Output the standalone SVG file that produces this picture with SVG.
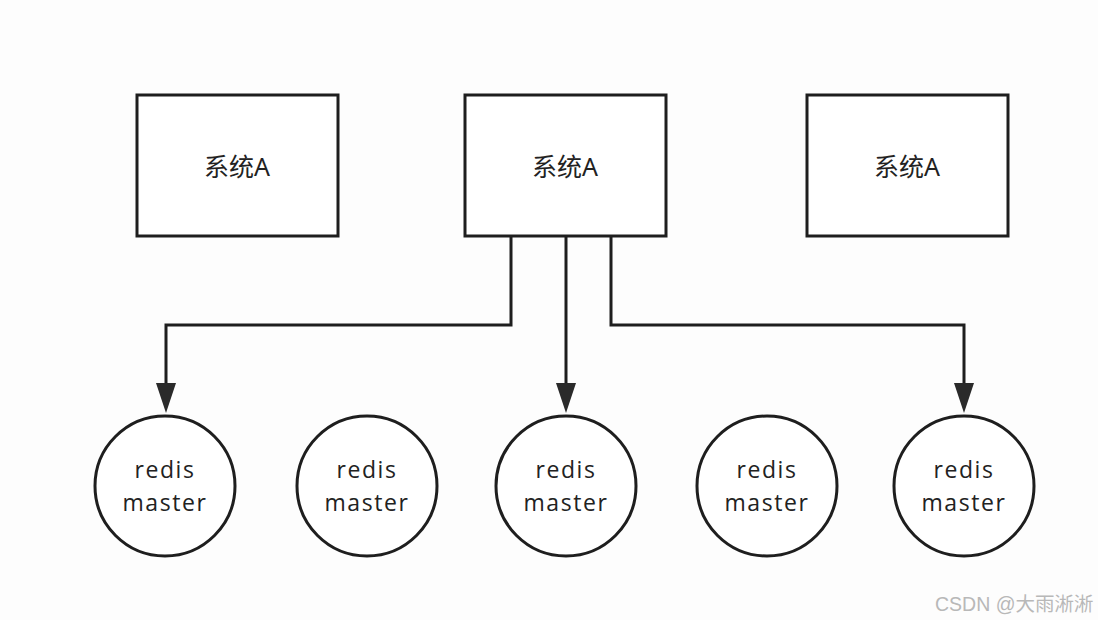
<svg xmlns="http://www.w3.org/2000/svg" width="1098" height="620" viewBox="0 0 1098 620">
<defs>
<style>
.box{fill:#fff;stroke:#1e1e1e;stroke-width:3}
.circ{fill:#fff;stroke:#1e1e1e;stroke-width:3}
.line{fill:none;stroke:#1e1e1e;stroke-width:3}
.lbl{font-family:"Noto Sans","Noto Sans CJK SC",sans-serif;font-size:25px;fill:#222;text-anchor:middle}
.rl{font-family:"Open Sans","Noto Sans",sans-serif;font-size:23px;fill:#222;text-anchor:middle;letter-spacing:1.6px}
.wm{font-family:"Liberation Sans","Noto Sans CJK SC",sans-serif;font-size:19.5px;fill:#b8b8b8}
</style>
</defs>
<rect width="1098" height="620" fill="#fdfdfd"/>
<g id="sysA1"><rect class="box" x="137" y="95" width="201" height="141"/><text class="lbl" x="237" y="176">系统A</text></g>
<g id="sysA2"><rect class="box" x="465" y="95" width="201" height="141"/><text class="lbl" x="565" y="176">系统A</text></g>
<g id="sysA3"><rect class="box" x="807" y="95" width="201" height="141"/><text class="lbl" x="907" y="176">系统A</text></g>
<g id="connectors">
<path class="line" d="M511,236 V325 H166 V384" />
<path d="M156,383 L176,383 L166,413 Z" fill="#2a2a2a"/>
<path class="line" d="M566,236 V384" />
<path d="M556,383 L576,383 L566,413 Z" fill="#2a2a2a"/>
<path class="line" d="M611,236 V325 H964 V384" />
<path d="M954,383 L974,383 L964,413 Z" fill="#2a2a2a"/>
</g>
<g id="redis1"><ellipse class="circ" cx="165" cy="486" rx="70" ry="70"/><text class="rl" x="165" y="478">redis</text><text class="rl" x="165" y="511">master</text></g>
<g id="redis2"><ellipse class="circ" cx="367" cy="486" rx="70" ry="70"/><text class="rl" x="367" y="478">redis</text><text class="rl" x="367" y="511">master</text></g>
<g id="redis3"><ellipse class="circ" cx="566" cy="486" rx="70" ry="70"/><text class="rl" x="566" y="478">redis</text><text class="rl" x="566" y="511">master</text></g>
<g id="redis4"><ellipse class="circ" cx="767" cy="486" rx="70" ry="70"/><text class="rl" x="767" y="478">redis</text><text class="rl" x="767" y="511">master</text></g>
<g id="redis5"><ellipse class="circ" cx="964" cy="486" rx="70" ry="70"/><text class="rl" x="964" y="478">redis</text><text class="rl" x="964" y="511">master</text></g>
<text class="wm" x="935" y="611">CSDN @大雨淅淅</text>
</svg>
